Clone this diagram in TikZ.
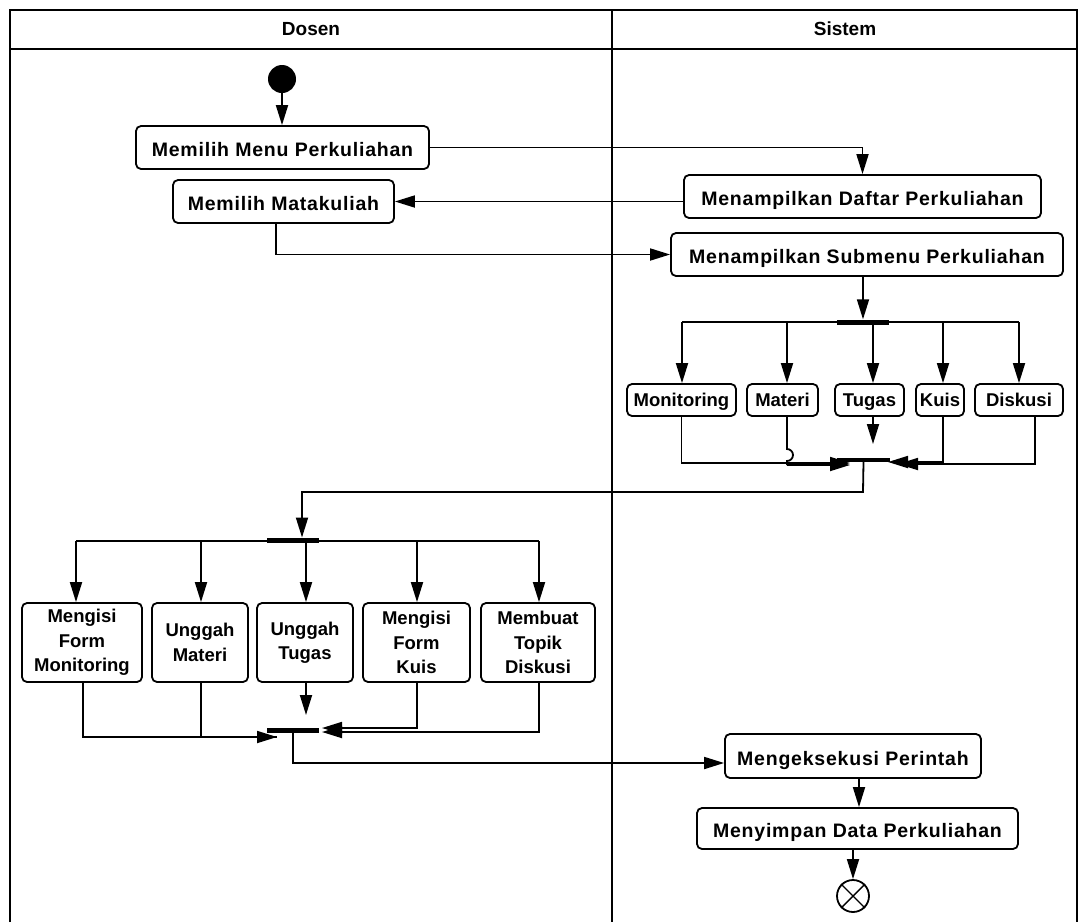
\documentclass[tikz,border=0pt]{standalone}
\usepackage{fontspec}
\setmainfont{Liberation Sans}
\newfontfamily\lblfont{Liberation Sans}[LetterSpace=4]
\usetikzlibrary{arrows.meta}

\begin{document}
\begin{tikzpicture}[x=1pt,y=-1pt,
  flow/.style={line width=1.8pt},
  arr/.style={flow,-{Triangle[length=20pt,width=12pt]}},
  act/.style={draw,line width=1.8pt,rounded corners=5pt,inner sep=0pt,fill=white,
    text height=18pt,text depth=0pt,
    font=\lblfont\bfseries\fontsize{19.5}{22}\selectfont},
  boxtext/.style={draw,line width=1.8pt,rounded corners=5pt,inner sep=0pt,fill=white,
    align=center,font=\bfseries\fontsize{18.5}{24.5}\selectfont},
  oneline/.style={boxtext,text height=13.2pt,text depth=0pt},
  bar/.style={fill=black,inner sep=0pt,minimum height=5pt},
  lane/.style={line width=1.9pt},
  head/.style={font=\bfseries\fontsize{19}{22}\selectfont}
]
\useasboundingbox (0,0) rectangle (1080,922);

% swimlane frame
\draw[lane] (10,922) -- (10,10) -- (1077,10) -- (1077,922);
\draw[lane] (10,49) -- (1077,49);
\draw[lane] (612,10) -- (612,922);
\node[head] (hdosen) at (311,29) {Dosen};
\node[head] (hsistem) at (845,29) {Sistem};

% initial and final nodes
\node[fill=black,circle,inner sep=0pt,minimum size=28pt] (start) at (282,79) {};
\node[draw,circle,inner sep=0pt,minimum size=32pt,line width=1.8pt] (stop) at (853,896) {};
\draw[line width=1.4pt] (stop.north west) -- (stop.south east);
\draw[line width=1.4pt] (stop.north east) -- (stop.south west);

% upper activities
\node[act,minimum width=293pt,minimum height=43pt] (mm) at (282.5,147.5) {Memilih Menu Perkuliahan};
\node[act,minimum width=221pt,minimum height=43pt] (mk) at (283.5,201.5) {Memilih Matakuliah};
\node[act,minimum width=357pt,minimum height=43pt] (daftar) at (862.5,196.5) {Menampilkan Daftar Perkuliahan};
\node[act,minimum width=392pt,minimum height=43pt] (sub) at (867,254.5) {Menampilkan Submenu Perkuliahan};

% system fork / join
\node[bar,minimum width=52pt] (fork1) at (863,322) {};
\node[bar,minimum width=53pt,minimum height=4pt] (join1) at (863.5,460) {};

\node[oneline,minimum width=109pt,minimum height=32pt] (smon) at (681.5,400) {Monitoring};
\node[oneline,minimum width=71pt,minimum height=32pt] (smat) at (782.5,400) {Materi};
\node[oneline,minimum width=69pt,minimum height=32pt] (stug) at (869.5,400) {Tugas};
\node[oneline,minimum width=48pt,minimum height=32pt] (skui) at (940,400) {Kuis};
\node[oneline,minimum width=88pt,minimum height=32pt] (sdis) at (1019,400) {Diskusi};

% lecturer fork / join
\node[bar,minimum width=52pt] (fork2) at (293,540) {};
\node[bar,minimum width=52pt] (join2) at (293,730) {};

\node[boxtext,minimum width=120pt,minimum height=79pt] (dmon) at (82,642.5) {Mengisi\\Form\\Monitoring};
\node[boxtext,minimum width=96pt,minimum height=79pt] (dmat) at (200,642.5) {Unggah\\Materi};
\node[boxtext,minimum width=96pt,minimum height=79pt] (dtug) at (305,642.5) {Unggah\\Tugas};
\node[boxtext,minimum width=107pt,minimum height=79pt] (dkui) at (416.5,642.5) {Mengisi\\Form\\Kuis};
\node[boxtext,minimum width=114pt,minimum height=79pt] (ddis) at (538,642.5) {Membuat\\Topik\\Diskusi};

% lower activities
\node[act,minimum width=256pt,minimum height=44pt] (exec) at (853,756) {Mengeksekusi Perintah};
\node[act,minimum width=321pt,minimum height=41pt] (simpan) at (857.5,828.5) {Menyimpan Data Perkuliahan};

% main flow
\draw[arr] (start.south) -- (start.south |- mm.north);
\draw[arr] (mm.east) -| (daftar.north);
\draw[arr] (daftar.west |- mk.east) -- (mk.east);
\draw[arr] ([xshift=-7.5pt]mk.south) |- (sub.west);
\draw[arr] (sub.south -| fork1) -- (fork1.north);

% system fork branches
\coordinate (b1) at (682,322);
\coordinate (b2) at (787,322);
\coordinate (b3) at (873,322);
\coordinate (b4) at (943,322);
\coordinate (b5) at (1019,322);
\draw[flow] (b1) -- (b5);
\draw[arr] (b1) -- (b1 |- smon.north);
\draw[arr] (b2) -- (b2 |- smat.north);
\draw[arr] (b3) -- (b3 |- stug.north);
\draw[arr] (b4) -- (b4 |- skui.north);
\draw[arr] (b5) -- (b5 |- sdis.north);

% system join branches
\coordinate (jl) at (850,463);
\coordinate (jr) at (888,462);
\draw[arr] (smon.south) |- (jl);
\draw[flow] (787,416) -- (787,449) arc[start angle=-90,end angle=90,radius=6] -- (787,465);
\draw[arr] (787,465) -- ([yshift=-2pt]jl);
\draw[arr] (873,416) -- (873,444);
\draw[arr] (943,416) |- (jr);
\draw[arr] (1035,416) |- ([xshift=10pt,yshift=-2pt]jr);

% hand over to the lecturer lane
\draw[arr] (join1.south) -- (863,492) -| (302,537.5);

% lecturer fork branches
\coordinate (c1) at (76,541);
\coordinate (c2) at (201,541);
\coordinate (c3) at (306,541);
\coordinate (c4) at (417,541);
\coordinate (c5) at (539,541);
\draw[flow] (c1) -- (c5);
\draw[arr] (c1) -- (c1 |- dmon.north);
\draw[arr] (c2) -- (c2 |- dmat.north);
\draw[arr] (c3) -- (c3 |- dtug.north);
\draw[arr] (c4) -- (c4 |- dkui.north);
\draw[arr] (c5) -- (c5 |- ddis.north);

% lecturer join branches
\coordinate (kl) at (277,737);
\coordinate (kr) at (322,728);
\draw[arr] (83,682) |- (kl);
\draw[flow] (201,682) |- (kl);
\draw[arr] (306,682) -- (306,715);
\draw[arr] (417,682) |- (kr);
\draw[arr] (539,682) |- ([yshift=-4pt]kr);

% back to the system
\draw[arr] (join2.south) -- (293,763) -- (exec.west |- 0,763);
\draw[arr] ([xshift=6pt]exec.south) -- ([xshift=6pt]exec.south |- simpan.north);
\draw[arr] ([xshift=-4.5pt]simpan.south) -- (stop.north);
\end{tikzpicture}
\end{document}
